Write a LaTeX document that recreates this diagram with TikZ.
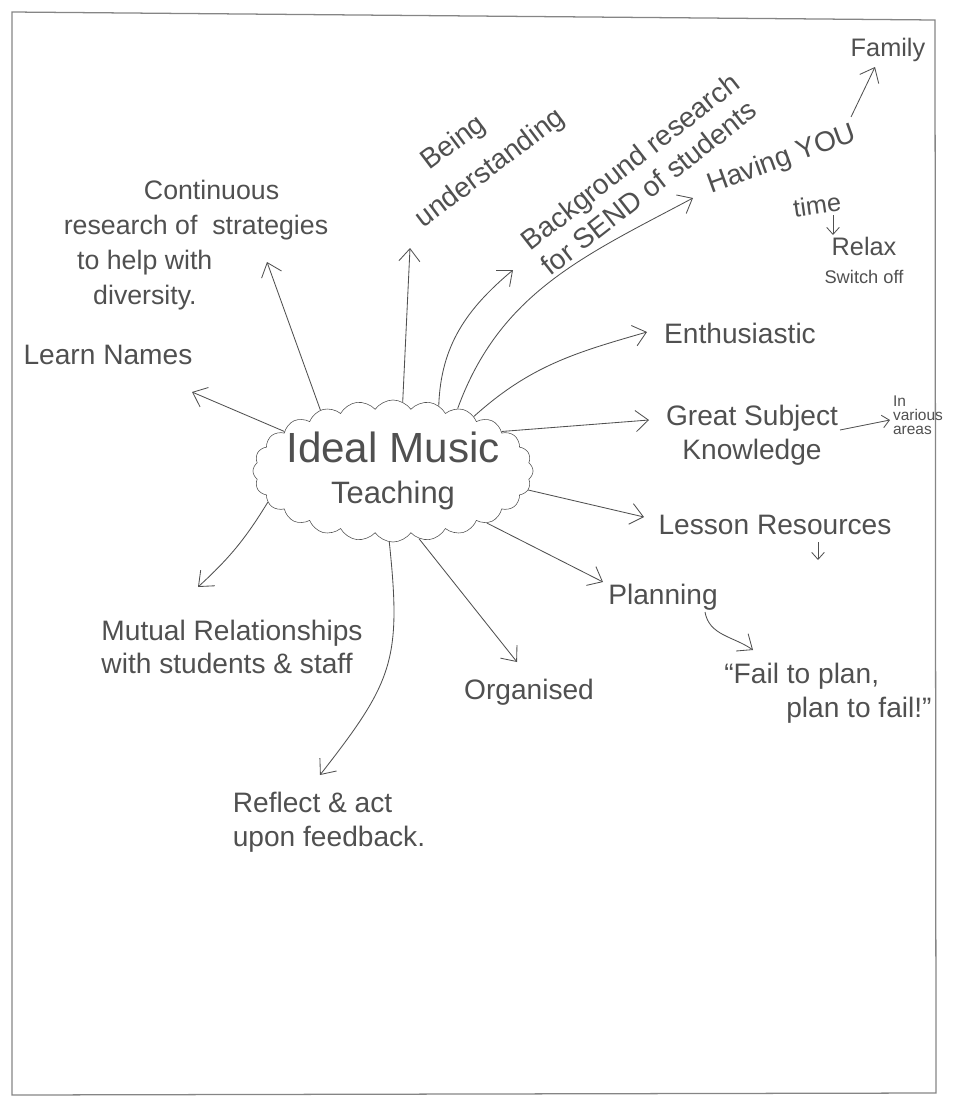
\documentclass[tikz,border=0pt]{standalone}
\usepackage{fontspec}
\setmainfont{Liberation Sans}
\usepackage{tikz}
\usepackage{xcolor}
\usetikzlibrary{shapes.symbols,arrows.meta}
\definecolor{pencil}{HTML}{505050}
\tikzset{
    idea-cloud/.style = {draw=pencil, thin, cloud, cloud puffs=24, cloud puff arc=110, cloud ignores aspect, minimum width=7cm, minimum height=3.55cm, inner sep=-22pt, align=center, text=pencil},
    idea-label/.style = {text=pencil, inner sep=2pt, font=\fontsize{20}{24}\selectfont},
    idea-small/.style = {text=pencil, inner sep=1pt, font=\fontsize{18}{20}\selectfont},
    idea-tiny/.style = {text=pencil, inner sep=1pt, font=\fontsize{11}{10}\selectfont},
    idea-arrow/.style = {draw=pencil, line width=0.6pt, -{Straight Barb[length=9pt,width=15pt]}},
    idea-short/.style = {idea-arrow, -{Straight Barb[length=5pt,width=9pt]}},
}
\begin{document}
\begin{tikzpicture}[x=0.025cm, y=0.025cm]
\useasboundingbox (0,0) rectangle (954,-1099);
\draw[pencil!70, line width=0.9pt] (12,-12) -- (935,-20) -- (936,-1093) -- (12,-1095) -- cycle;

\node[idea-cloud] (cloud) at (393,-471) {\fontsize{30}{32}\selectfont Ideal Music\\[12pt]\fontsize{22}{24}\selectfont Teaching};

\node[idea-label] (learn) at (108,-355) {Learn Names};
\node[idea-small, align=left, font=\fontsize{19}{25}\selectfont] (cont) at (196,-245) {\hspace*{3em}Continuous\\research of\ \ strategies\\\hspace*{0.5em}to help with\\\hspace*{1.1em}diversity.};
\node[idea-label, align=left, rotate=37, font=\fontsize{20}{30}\selectfont] (being) at (478,-152) {\hspace*{1.4em}Being\\understanding};
\node[idea-small, align=left, rotate=38, font=\fontsize{20}{23}\selectfont] (bg) at (640,-174) {Background research\\for SEND of students};
\node[idea-label, rotate=20] (having) at (782,-160) {Having YOU};
\node[idea-small] (family) at (888,-50) {Family};
\node[idea-small, rotate=8] (time) at (817,-205) {time};
\node[idea-small, align=center] (relax) at (864,-260) {Relax\\{\fontsize{13}{15}\selectfont Switch off}};
\node[idea-label] (enth) at (740,-333) {Enthusiastic};
\node[idea-label, align=center] (great) at (752,-435) {Great Subject\\Knowledge};
\node[idea-tiny, align=left] (areas) at (918,-415) {In\\various\\areas};
\node[idea-label] (lesson) at (775,-525) {Lesson Resources};
\node[idea-label] (plan) at (663,-597) {Planning};
\node[idea-label, align=left] (quote) at (828,-693) {“Fail to plan,\\\hspace*{2.2em}plan to fail!”};
\node[idea-label] (org) at (529,-692) {Organised};
\node[idea-label, align=left] (reflect) at (329,-822) {Reflect \& act\\upon feedback.};
\node[idea-label, align=left] (mutual) at (232,-647) {Mutual Relationships\\with students \& staff};
\coordinate (resTip) at (818,-560);

\draw[idea-arrow] (cloud.160) -- ([shift={(84,-37)}]learn.center);
\draw[idea-arrow] (cloud.140) -- ([shift={(71,-17)}]cont.center);
\draw[idea-arrow] (cloud.82) -- ([shift={(-68,-96)}]being.center);
\draw[idea-arrow] (cloud.55) to[out=88, in=220] ([shift={(-127,-96)}]bg.center);
\draw[idea-arrow] (cloud.44) to[out=70, in=208] ([shift={(-89,-38)}]having.center);
\draw[idea-arrow] (cloud.34) to[out=42, in=196] ([shift={(-93,1)}]enth.center);
\draw[idea-arrow] (cloud.20) -- ([shift={(-103,15)}]great.center);
\draw[idea-arrow] (cloud.-8) -- ([shift={(-131,8)}]lesson.center);
\draw[idea-arrow] (cloud.-29) -- ([shift={(-60,15)}]plan.center);
\draw[idea-arrow] (cloud.-69) -- ([shift={(-12,30)}]org.center);
\draw[idea-arrow] (cloud.-93) to[out=-84, in=52, looseness=1.25] ([shift={(-9,47)}]reflect.center);
\draw[idea-arrow] (cloud.194) to[bend left=8] ([shift={(-34,60)}]mutual.center);
\draw[idea-arrow] ([shift={(69,43)}]having.center) -- ([shift={(-13,-17)}]family.center);
\draw[idea-short] ([shift={(16,-10)}]time.center) -- ([shift={(-31,25)}]relax.center);
\draw[idea-short] ([shift={(88,5)}]great.center) -- ([shift={(-28,-5)}]areas.center);
\draw[idea-short] ([shift={(43,-17)}]lesson.center) -- (resTip);
\draw[idea-arrow] ([shift={(42,-15)}]plan.center) to[out=-80, in=145] ([shift={(-75,43)}]quote.center);
\end{tikzpicture}
\end{document}
